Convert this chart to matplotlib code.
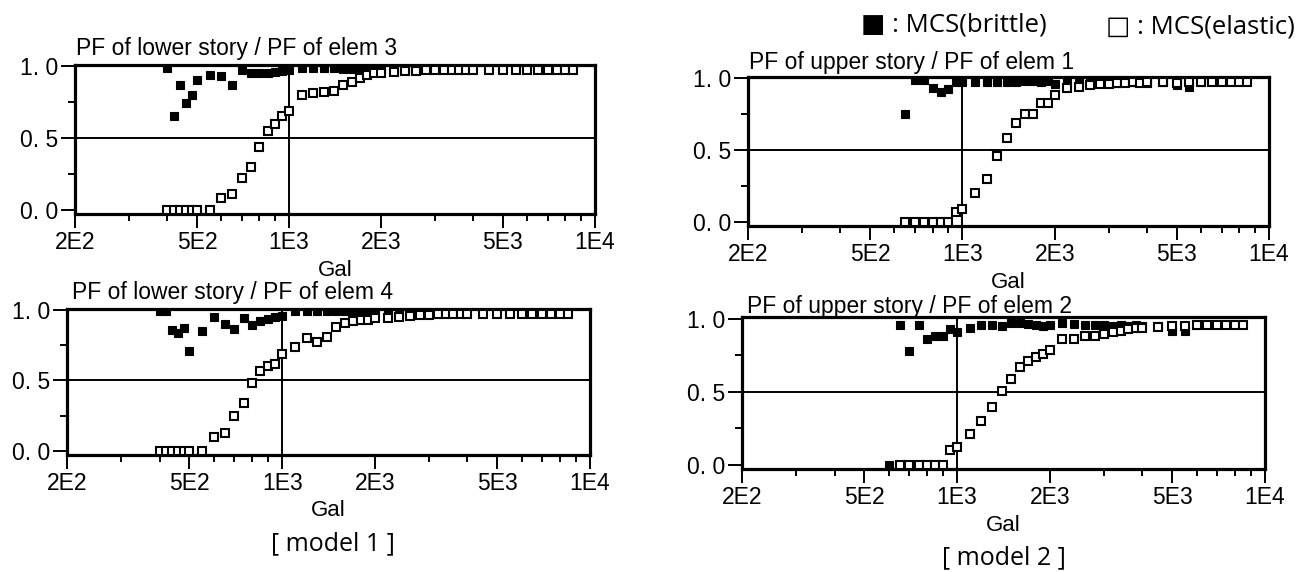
import numpy as np
import matplotlib
matplotlib.use("Agg")
import matplotlib.pyplot as plt
from matplotlib.ticker import FixedLocator, NullFormatter

# ---------------- data ----------------
GAL = [400, 420, 440, 460, 480, 500, 550, 600, 650, 700, 750, 800, 850, 900, 950,
       1000, 1100, 1200, 1300, 1400, 1500, 1600, 1700, 1800, 1900, 2000, 2200, 2400,
       2600, 2800, 3000, 3200, 3400, 3600, 3800, 4000, 4500, 5000, 5500, 6000, 6500,
       7000, 7500, 8000, 8500]
N = None

# model 1, lower story / elem 3
elem3_elastic = [0, 0, 0, 0, 0, 0, 0, 0.08, 0.11, 0.22, 0.30, 0.44, 0.55, 0.60, 0.65,
                 0.69, 0.80, 0.81, 0.82, 0.83, 0.87, 0.89, 0.92, 0.94, 0.95, 0.955, 0.96, 0.965,
                 0.965, 0.97, 0.97, 0.97, 0.97, 0.97, 0.97, 0.975, 0.97, 0.97, 0.97, 0.97, 0.97,
                 0.97, 0.97, 0.97, 0.97]
elem3_brittle = [0.99, 0.65, 0.87, 0.74, 0.80, 0.90, 0.94, 0.93, 0.87, 0.975, 0.95, 0.95, 0.955, 0.96, 0.965,
                 0.97, 0.985, 0.985, 0.985, 0.985, 0.98, 0.98, 0.98, 0.98, 0.98, 0.975, 0.975, 0.97,
                 N, N, N, N, N, N, N, N, N, N, N, N, N, N, N, N, N]

# model 2, upper story / elem 1
elem1_elastic = [N, N, N, N, N, N, N, N, 0, 0, 0, 0, 0, 0, 0.07,
                 0.09, 0.20, 0.30, 0.46, 0.58, 0.69, 0.75, 0.75, 0.825, 0.825, 0.88, 0.93, 0.94,
                 0.955, 0.96, 0.96, 0.965, 0.965, 0.97, 0.965, 0.97, 0.97, 0.965, 0.97, 0.97, 0.97,
                 0.97, 0.97, 0.97, 0.975]
elem1_brittle = [N, N, N, N, N, N, N, N, 0.75, 0.985, 0.985, 0.93, 0.90, 0.925, 0.97,
                 0.97, 0.97, 0.97, 0.97, 0.97, 0.975, 0.98, 0.98, 0.975, 0.98, 0.96, 0.975, 0.98,
                 0.975, 0.98, 0.975, 0.965, 0.97, 0.975, 0.97, 0.965, 0.97, 0.95, 0.94, 0.97,
                 N, N, N, N, N]

# model 1, lower story / elem 4
elem4_elastic = [0, 0, 0, 0, 0, 0, 0, 0.10, 0.13, 0.25, 0.34, 0.485, 0.57, 0.60, 0.62,
                 0.69, 0.74, 0.80, 0.775, 0.805, 0.88, 0.91, 0.92, 0.93, 0.93, 0.94, 0.945, 0.95,
                 0.96, 0.965, 0.965, 0.97, 0.97, 0.97, 0.97, 0.97, 0.97, 0.97, 0.97, 0.97, 0.97,
                 0.97, 0.97, 0.97, 0.97]
elem4_brittle = [0.99, 0.99, 0.86, 0.84, 0.875, 0.71, 0.85, 0.95, 0.90, 0.865, 0.94, 0.895, 0.925, 0.935, 0.95,
                 0.955, 0.995, 0.99, 0.99, 0.99, 0.99, 0.99, 0.99, 0.99, 0.99, 0.99, 0.985, 0.985,
                 N, N, N, N, N, N, N, N, N, N, N, N, N, N, N, N, N]

# model 2, upper story / elem 2
elem2_elastic = [N, N, N, N, N, N, N, N, 0, 0, 0, 0, 0, 0, 0.10,
                 0.12, 0.21, 0.30, 0.40, 0.51, 0.59, 0.67, 0.71, 0.74, 0.76, 0.79, 0.86, 0.86,
                 0.885, 0.885, 0.90, 0.91, 0.92, 0.93, 0.935, 0.94, 0.945, 0.95, 0.95, 0.955, 0.955,
                 0.96, 0.96, 0.96, 0.96]
elem2_brittle = [N, N, N, N, N, N, N, 0.0, 0.96, 0.78, 0.96, 0.86, 0.88, 0.88, 0.93,
                 0.91, 0.935, 0.96, 0.96, 0.95, 0.97, 0.97, 0.965, 0.96, 0.95, 0.96, 0.97, 0.965,
                 0.955, 0.96, 0.955, 0.95, 0.955, 0.95, 0.955, 0.95, 0.95, 0.92, 0.92, 0.96,
                 N, N, N, N, N]

TITLES = ["PF of lower story / PF of elem 3", "PF of upper story / PF of elem 1",
          "PF of lower story / PF of elem 4", "PF of upper story / PF of elem 2"]
XTICKS = [200, 500, 1000, 2000, 5000, 10000]
XTICKLABELS = ["2E2", "5E2", "1E3", "2E3", "5E3", "1E4"]
XMINOR = [300, 400, 600, 700, 800, 900, 3000, 4000, 6000, 7000, 8000, 9000]
YTICKS = [0.0, 0.5, 1.0]
YTICKLABELS = ["0. 0", "0. 5", "1. 0"]
YMINOR = [0.25, 0.75]
LEGEND = ["\u25a0 : MCS(brittle)", "\u25a1 : MCS(elastic)"]
MODELS = ["[ model 1 ]", "[ model 2 ]"]

# ---------------- layout ----------------
W, H = 1296, 572
fig = plt.figure(figsize=(W / 100, H / 100), dpi=100)
FONT = "Liberation Sans"

def px(x, y):
    return x / W, 1 - y / H

rects = [
    [0.0581, 0.6253, 0.4010, 0.2617],
    [0.5772, 0.6044, 0.4020, 0.2617],
    [0.0517, 0.2042, 0.4035, 0.2563],
    [0.5725, 0.1794, 0.4035, 0.2656],
]
series = [(elem3_brittle, elem3_elastic), (elem1_brittle, elem1_elastic),
          (elem4_brittle, elem4_elastic), (elem2_brittle, elem2_elastic)]
title_pos = [(76, 48), (749, 63), (72, 293), (747, 306)]

def arr(v):
    return np.array([np.nan if a is None else a for a in v], dtype=float)

gal = np.array(GAL, dtype=float)
for rect, (brit, elas), title, tp in zip(rects, series, TITLES, title_pos):
    ax = fig.add_axes(rect)
    ax.set_xscale("log")
    ax.set_xlim(200, 10000)
    ax.set_ylim(-0.03, 1.01)
    ax.axhline(0.5, color="black", lw=1.4, zorder=1)
    ax.axvline(1000, color="black", lw=1.4, zorder=1)
    ax.plot(gal, arr(brit), "s", ms=6.3, mfc="black", mec="black", mew=0.8, zorder=3)
    ax.plot(gal, arr(elas), "s", ms=6.3, mfc="white", mec="black", mew=1.5, zorder=4)
    for s in ax.spines.values():
        s.set_linewidth(2.3)
    ax.xaxis.set_major_locator(FixedLocator(XTICKS))
    ax.set_xticklabels(XTICKLABELS)
    ax.xaxis.set_minor_locator(FixedLocator(XMINOR))
    ax.xaxis.set_minor_formatter(NullFormatter())
    ax.set_yticks(YTICKS)
    ax.set_yticklabels(YTICKLABELS)
    ax.yaxis.set_minor_locator(FixedLocator(YMINOR))
    ax.tick_params(axis="both", which="major", direction="out", length=10, width=1.4,
                   labelsize=16.5, pad=2)
    ax.tick_params(axis="both", which="minor", direction="out", length=5, width=1.4)
    for lab in ax.get_xticklabels() + ax.get_yticklabels():
        lab.set_fontfamily(FONT)
    ax.set_xlabel("Gal", fontsize=16, family=FONT, labelpad=4)
    fx, fy = px(*tp)
    fig.text(fx, fy, title, fontsize=16.5, family=FONT, ha="left", va="center")

LFONT = ["Open Sans", "DejaVu Sans"]
fx, fy = px(861, 25)
fig.text(fx, fy, LEGEND[0], fontsize=18.5, family=LFONT, ha="left", va="center")
fx, fy = px(1106, 27)
fig.text(fx, fy, LEGEND[1], fontsize=18.5, family=LFONT, ha="left", va="center")
fx, fy = px(333, 544)
fig.text(fx, fy, MODELS[0], fontsize=18, family=LFONT, ha="center", va="center")
fx, fy = px(1004, 558)
fig.text(fx, fy, MODELS[1], fontsize=18, family=LFONT, ha="center", va="center")

fig.savefig("out.png", dpi=100, facecolor="white")
